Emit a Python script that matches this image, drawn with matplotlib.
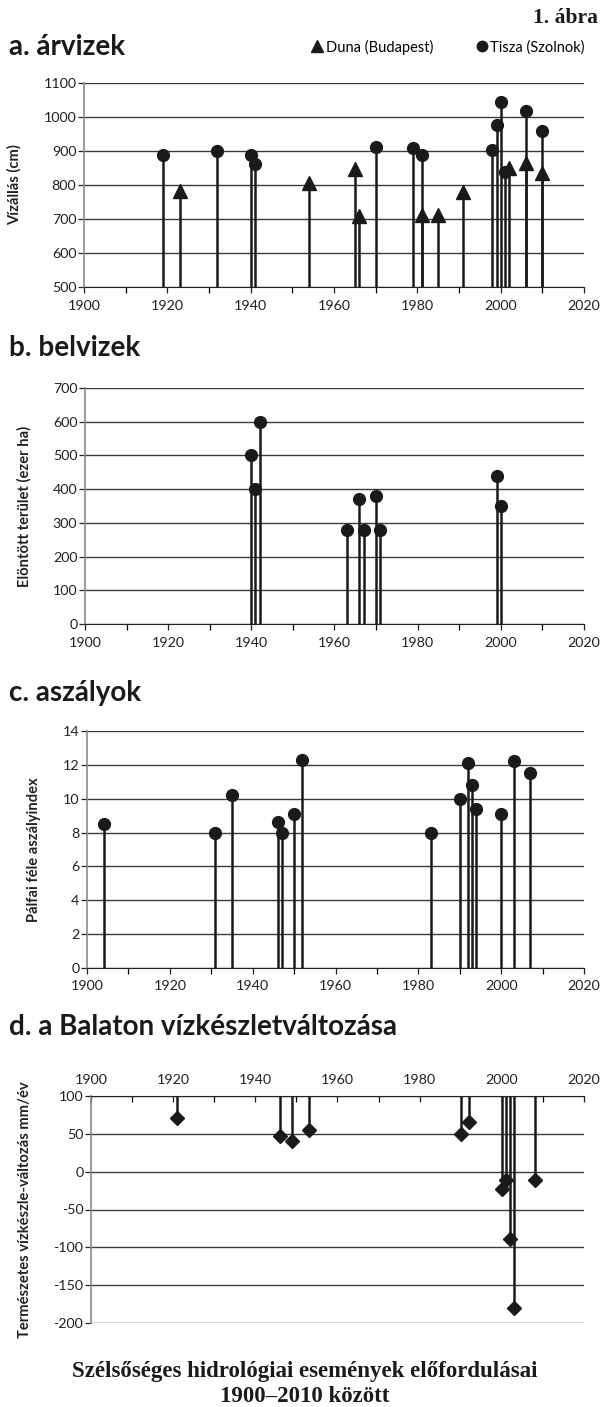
import matplotlib
matplotlib.use("Agg")
import matplotlib.pyplot as plt
from matplotlib.lines import Line2D
from matplotlib.ticker import MultipleLocator

plt.rcParams['font.family'] = ['Lato', 'DejaVu Sans']
plt.rcParams['axes.unicode_minus'] = False

# a. árvizek - Tisza (Szolnok) és Duna (Budapest) tetőzések, cm
tisza_ev = [1919, 1932, 1940, 1941, 1970, 1979, 1981, 1998, 1999, 2000, 2001, 2006, 2010]
tisza_cm = [888, 901, 887, 862, 911, 910, 888, 903, 976, 1044, 839, 1019, 960]
duna_ev = [1923, 1954, 1965, 1966, 1981, 1985, 1991, 2002, 2006, 2010]
duna_cm = [783, 805, 847, 709, 713, 711, 780, 849, 864, 836]

# b. belvizek - elöntött terület, ezer ha
belviz_ev = [1940, 1941, 1942, 1963, 1966, 1967, 1970, 1971, 1999, 2000]
belviz_ezer_ha = [500, 400, 600, 280, 370, 280, 380, 280, 440, 350]

# c. aszályok - Pálfai féle aszályindex
aszaly_ev = [1904, 1931, 1935, 1946, 1947, 1950, 1952, 1983, 1990, 1992, 1993, 1994, 2000, 2003, 2007]
aszaly_index = [8.5, 8.0, 10.2, 8.6, 8.0, 9.1, 12.3, 8.0, 10.0, 12.1, 10.8, 9.4, 9.1, 12.25, 11.5]

# d. Balaton vízkészletváltozás, mm/év
balaton_ev = [1921, 1946, 1949, 1953, 1990, 1992, 2000, 2001, 2002, 2003, 2008]
balaton_mm = [71, 47, 40, 55, 50, 65, -23, -11, -89, -180, -11]

SZIN = '#1a1a1a'
RACS = '#3c3c3c'
W, H = 606, 1407

fig = plt.figure(figsize=(W / 100, H / 100), dpi=100)


def rect(x0, x1, ytop, ybot):
    # pixelből ábra-koordináta
    return [x0 / W, 1 - ybot / H, (x1 - x0) / W, (ybot - ytop) / H]


def panel(r, ylim, ystep, ylabel, labelx, top=False):
    ax = fig.add_axes(r)
    ax.set_xlim(1900, 2020)
    ax.set_ylim(*ylim)
    ax.xaxis.set_major_locator(MultipleLocator(20))
    ax.xaxis.set_minor_locator(MultipleLocator(10))
    ax.yaxis.set_major_locator(MultipleLocator(ystep))
    ax.grid(axis='y', color=RACS, lw=1.0)
    ax.set_axisbelow(True)
    ax.spines['right'].set_visible(False)
    ax.spines['left'].set_color('#8a8a8a')
    ax.spines['left'].set_linewidth(1.2)
    if top:
        ax.spines['bottom'].set_visible(False)
        ax.spines['top'].set_color('#222222')
        ax.xaxis.tick_top()
        ax.tick_params(axis='x', which='both', direction='in', length=4, width=0.9, pad=7)
    else:
        ax.spines['top'].set_visible(False)
        ax.spines['bottom'].set_color('#222222')
        ax.tick_params(axis='x', which='both', direction='out', length=4, width=0.9, pad=5)
    ax.tick_params(axis='y', direction='out', length=4, width=0.9, pad=1.5)
    ax.tick_params(labelsize=10.3, colors='#222222')
    ax.set_ylabel(ylabel, fontsize=10.6, fontweight='bold', color='#222222')
    ax.yaxis.set_label_coords(labelx, 0.5)
    return ax


# a. árvizek
ax = panel(rect(84, 584, 83, 287), (500, 1100), 100, 'Vízállás (cm)', -0.124)
ax.vlines(tisza_ev, 500, tisza_cm, color=SZIN, lw=1.8)
ax.vlines(duna_ev, 500, duna_cm, color=SZIN, lw=1.8)
ax.plot(tisza_ev, tisza_cm, 'o', color=SZIN, ms=8.5, ls='none', clip_on=False)
ax.plot(duna_ev, duna_cm, '^', color=SZIN, ms=10, ls='none', clip_on=False)

# b. belvizek
ax = panel(rect(85, 584, 388, 624), (0, 700), 100, 'Elöntött terület (ezer ha)', -0.108)
ax.vlines(belviz_ev, 0, belviz_ezer_ha, color=SZIN, lw=1.8)
ax.plot(belviz_ev, belviz_ezer_ha, 'o', color=SZIN, ms=8.5, ls='none')

# c. aszályok
ax = panel(rect(87, 584, 731, 968), (0, 14), 2, 'Pálfai féle aszályindex', -0.093)
ax.vlines(aszaly_ev, 0, aszaly_index, color=SZIN, lw=1.8)
ax.plot(aszaly_ev, aszaly_index, 'o', color=SZIN, ms=8.5, ls='none')

# d. Balaton
ax = panel(rect(91, 584, 1096, 1323), (-200, 100), 50,
           'Természetes vízkészle-változás mm/év', -0.12, top=True)
ax.vlines(balaton_ev, balaton_mm, 100, color=SZIN, lw=1.8)
ax.plot(balaton_ev, balaton_mm, 'D', color=SZIN, ms=7.5, ls='none')

# címek
cimek = [('a. árvizek', 47), ('b. belvizek', 348), ('c. aszályok', 693),
         ('d. a Balaton vízkészletváltozása', 1027)]
for szoveg, y in cimek:
    fig.text(9 / W, 1 - y / H, szoveg, fontsize=20, fontweight='bold',
             color='#1a1a1a', va='center', ha='left')

fig.text(598 / W, 1 - 18 / H, '1. ábra', fontsize=15.5, fontweight='bold',
         family='Liberation Serif', ha='right', va='center', color='#1a1a1a')

# jelmagyarázat
kezek = [Line2D([], [], marker='^', color=SZIN, ls='none', ms=8.5),
         Line2D([], [], marker='o', color=SZIN, ls='none', ms=7.5)]
fig.legend(kezek, ['Duna (Budapest)', 'Tisza (Szolnok)'], loc='center right',
           bbox_to_anchor=(593 / W, 1 - 47 / H), ncol=2, frameon=False,
           fontsize=10.5, handlelength=0.7, handletextpad=0.2, columnspacing=3.0,
           borderpad=0.1)

fig.text(0.503, 1 - 1372 / H, 'Szélsőséges hidrológiai események előfordulásai',
         fontsize=16.5, fontweight='bold', family='Liberation Serif',
         ha='center', va='center', color='#1a1a1a')
fig.text(0.503, 1 - 1397 / H, '1900–2010 között', fontsize=16.5, fontweight='bold',
         family='Liberation Serif', ha='center', va='center', color='#1a1a1a')

fig.savefig('out.png', dpi=100)
